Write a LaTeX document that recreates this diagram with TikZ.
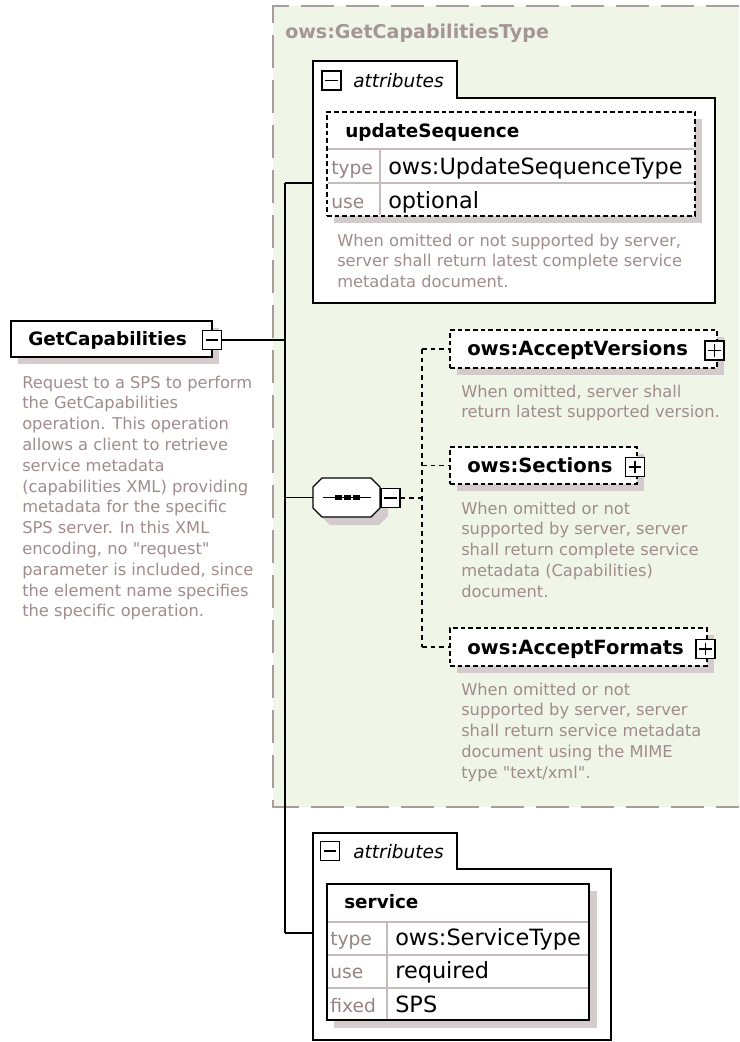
\documentclass[tikz,border=0pt]{standalone}
\usepackage{fontspec}
\setmainfont{DejaVu Sans}[Ligatures=TeXOff]

\definecolor{bggreen}{RGB}{239,246,231}
\definecolor{bordergray}{RGB}{170,158,156}
\definecolor{titlegray}{RGB}{165,150,150}
\definecolor{descgray}{RGB}{160,140,140}
\definecolor{keygray}{RGB}{150,132,132}
\definecolor{shadowgray}{RGB}{212,204,204}
\definecolor{rulegray}{RGB}{200,186,186}

\newcommand\descfont{\fontsize{12.2}{15.6}\selectfont}
\newcommand\headfont{\bfseries\fontsize{13.8}{16}\selectfont}
\newcommand\elemfont{\bfseries\fontsize{14.7}{17}\selectfont}
\newcommand\titlefont{\bfseries\fontsize{14.3}{17}\selectfont}
\newcommand\valfont{\fontsize{16.8}{20}\selectfont}
\newcommand\keyfont{\fontsize{14}{16}\selectfont}
\newcommand\tabfont{\itshape\fontsize{13.9}{16}\selectfont}

\tikzset{
  pxbox/.style 2 args={minimum width=#1*0.75pt, minimum height=#2*0.75pt, inner sep=0pt, outer sep=0pt},
  solidbox/.style={draw=black, line width=1pt, fill=white},
  dashbox/.style={draw=black, line width=1pt, dash pattern=on 3.5pt off 2.25pt, fill=white},
  groupline/.style={draw=black, line width=1pt, fill=white},
  shade/.style={fill=shadowgray},
  rowrule/.style={draw=rulegray, line width=0.8pt},
  conn/.style={draw=black, line width=1pt},
  dashconn/.style={draw=black, line width=1pt, dash pattern=on 3.5pt off 3pt},
  typeborder/.style={draw=bordergray, line width=1.5pt, dash pattern=on 24.75pt off 9pt},
  pmbox/.style={draw=black, line width=0.9pt, fill=white, minimum size=19*0.75pt, inner sep=0pt},
  minussign/.style={pmbox, path picture={
      \draw[line width=0.9pt] ([xshift=2.6pt]path picture bounding box.west) -- ([xshift=-2.6pt]path picture bounding box.east);}},
  plussign/.style={pmbox, path picture={
      \draw[line width=0.9pt] ([xshift=2.6pt]path picture bounding box.west) -- ([xshift=-2.6pt]path picture bounding box.east);
      \draw[line width=0.9pt] ([yshift=-2.6pt]path picture bounding box.north) -- ([yshift=2.6pt]path picture bounding box.south);}},
  titletext/.style={font=\titlefont, text=titlegray, inner sep=0pt, anchor=base west},
  headtext/.style={font=\headfont, text=black, inner sep=0pt, anchor=base west},
  elemtext/.style={font=\elemfont, text=black, inner sep=0pt, anchor=base west},
  valtext/.style={font=\valfont, text=black, inner sep=0pt, anchor=base west},
  keytext/.style={font=\keyfont, text=keygray, inner sep=0pt, anchor=base west},
  tabtext/.style={font=\tabfont, text=black, inner sep=0pt, anchor=base west},
  % multi-line notes are anchored at the baseline of their last line
  desc/.style={font=\descfont, text=descgray, align=left, inner sep=0pt, anchor=base west},
  octagon/.style={draw=black, line width=1pt, fill=white},
}

\begin{document}
\begin{tikzpicture}[x=0.75pt,y=-0.75pt]
\useasboundingbox (0,0) rectangle (739,1042);

% complex type area
\fill[bggreen] (273,6) rectangle (739,807);
\draw[typeborder] (739,6) -- (273,6) -- (273,807) -- (739,807);
\node[titletext] (typename) at (285,38) {ows:GetCapabilitiesType};

% upper attribute group
\path[groupline] (313,303) -- (313,61) -- (457,61) -- (457,98) -- (715,98) -- (715,303) -- cycle;
\node[pxbox={402}{205}, anchor=north west] (attrA) at (313,98) {};
\node[minussign] (attrAminus) at (331.5,80.5) {};
\node[tabtext] (attrAlabel) at (353,87) {attributes};

% updateSequence attribute
\fill[shade] (334,119) rectangle (702,223);
\node[dashbox, pxbox={368}{104}, anchor=north west] (usq) at (327,112) {};
\draw[rowrule] (328,149) -- (694,149);
\draw[rowrule] (328,183) -- (694,183);
\draw[rowrule] (380,149) -- (380,215);
\node[headtext] (usqname) at (345,137) {updateSequence};
\node[keytext] (usqtypekey) at (331,174) {type};
\node[valtext] (usqtype) at (388,174) {ows:UpdateSequenceType};
\node[keytext] (usqusekey) at (331,208) {use};
\node[valtext] (usquse) at (388,208) {optional};
\node[desc] (usqdesc) at (337,287.6) {When omitted or not supported by server,\\server shall return latest complete service\\metadata document.};

% root element
\fill[shade] (18,328) rectangle (219,364);
\node[solidbox, pxbox={201}{36}, anchor=north west] (gc) at (11,321) {};
\node[headtext] (gclabel) at (28,345) {GetCapabilities};
\node[minussign] (gcminus) at (212,340) {};
\node[desc] (gcdesc) at (22,616.8) {Request to a SPS to perform\\the GetCapabilities\\operation. This operation\\allows a client to retrieve\\service metadata\\(capabilities XML) providing\\metadata for the specific\\SPS server. In this XML\\encoding, no "request"\\parameter is included, since\\the element name specifies\\the specific operation.};

% main trunk
\coordinate (trunkTop) at (285,183);
\coordinate (trunkBot) at (285,933);
\draw[conn] (trunkTop) -- (trunkBot);
\draw[conn] (gcminus.east) -- (gcminus.east -| trunkTop);
\draw[conn] (trunkTop) -- (trunkTop -| attrA.west);

% sequence compositor
\fill[shade] (321,495) -- (330,486) -- (379,486) -- (388,495) -- (388,516) -- (379,525) -- (330,525) -- (321,516) -- cycle;
\path[octagon] (313,487) -- (322,478) -- (371,478) -- (380,487) -- (380,508) -- (371,517) -- (322,517) -- (313,508) -- cycle;
\node[pxbox={67}{39}, anchor=north west] (seq) at (313,478) {};
\draw[line width=1pt] (323,497.5) -- (371,497.5);
\fill (335,495) rectangle (342,500);
\fill (344,495) rectangle (351,500);
\fill (353,495) rectangle (360,500);
\node[minussign] (seqminus) at (390.5,498) {};
\draw[conn] (seq.west -| trunkTop) -- (seq.west);

% optional child elements
\coordinate (chTop) at (422,349);
\coordinate (chBot) at (422,647);
\draw[dashconn] (seqminus.east) -- (seqminus.east -| chTop);
\draw[dashconn] (chTop) -- (chBot);

\fill[shade] (457,337) rectangle (724,375);
\node[dashbox, pxbox={267}{38}, anchor=north west] (av) at (450,330) {};
\node[elemtext] (avlabel) at (467,355) {ows:AcceptVersions};
\node[plussign] (avplus) at (714.5,350.5) {};
\draw[dashconn] (chTop) -- (av.west);
\node[desc] (avdesc) at (461,417.8) {When omitted, server shall\\return latest supported version.};

\fill[shade] (457,454) rectangle (644,491);
\node[dashbox, pxbox={187}{37}, anchor=north west] (sec) at (450,447) {};
\node[elemtext] (seclabel) at (467,472) {ows:Sections};
\node[plussign] (secplus) at (635,467) {};
\draw[dashconn] (sec.west -| chTop) -- (sec.west);
\node[desc] (secdesc) at (461,597.2) {When omitted or not\\supported by server, server\\shall return complete service\\metadata (Capabilities)\\document.};

\fill[shade] (457,635) rectangle (714,673);
\node[dashbox, pxbox={257}{38}, anchor=north west] (af) at (450,628) {};
\node[elemtext] (aflabel) at (467,654) {ows:AcceptFormats};
\node[plussign] (afplus) at (705.5,649) {};
\draw[dashconn] (chBot) -- (af.west);
\node[desc] (afdesc) at (461,778.2) {When omitted or not\\supported by server, server\\shall return service metadata\\document using the MIME\\type "text/xml".};

% lower attribute group
\path[groupline] (313,1040) -- (313,833) -- (457,833) -- (457,869) -- (611,869) -- (611,1040) -- cycle;
\node[pxbox={298}{171}, anchor=north west] (attrB) at (313,869) {};
\node[minussign] (attrBminus) at (330,851) {};
\node[tabtext] (attrBlabel) at (353,858) {attributes};
\draw[conn] (trunkBot) -- (trunkBot -| attrB.west);

% service attribute
\fill[shade] (334,891) rectangle (597,1028);
\node[solidbox, pxbox={262}{136}, anchor=north west] (svc) at (327,884) {};
\draw[rowrule] (328,922) -- (588,922);
\draw[rowrule] (328,955) -- (588,955);
\draw[rowrule] (328,988) -- (588,988);
\draw[rowrule] (387,922) -- (387,1019);
\node[headtext] (svcname) at (344,908) {service};
\node[keytext] (svctypekey) at (330,945) {type};
\node[valtext] (svctype) at (395,945) {ows:ServiceType};
\node[keytext] (svcusekey) at (330,978) {use};
\node[valtext] (svcuse) at (395,978) {required};
\node[keytext] (svcfixedkey) at (330,1012) {fixed};
\node[valtext] (svcfixed) at (395,1012) {SPS};
\end{tikzpicture}
\end{document}
